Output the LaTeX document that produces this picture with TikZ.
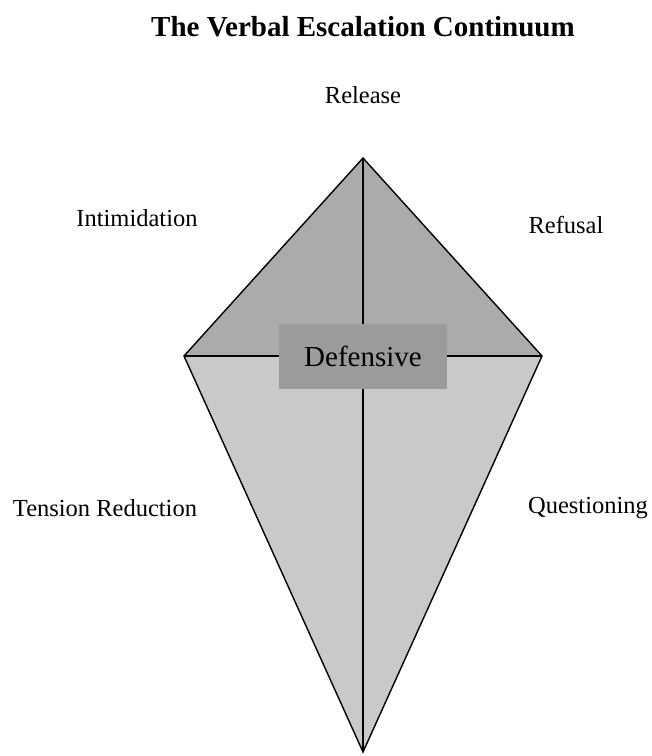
\documentclass[tikz,border=0pt]{standalone}
\usepackage{fontspec}
\setmainfont{Liberation Serif}
\definecolor{upgray}{HTML}{ABABAB}
\definecolor{lowgray}{HTML}{C9C9C9}
\definecolor{boxgray}{HTML}{9B9B9B}
\tikzset{lbl/.style={font=\fontsize{24.5}{28}\selectfont}}
\begin{document}
\begin{tikzpicture}[x=1pt,y=-1pt]
            \useasboundingbox (0,0) rectangle (652,756);
            \coordinate (top) at (363,158);
            \coordinate (lft) at (184,356);
            \coordinate (rgt) at (542,356);
            \coordinate (bot) at (363,752);
            \coordinate (mid) at (363,356);
            \fill[upgray] (lft) -- (top) -- (rgt) -- cycle;
            \fill[lowgray] (lft) -- (bot) -- (rgt) -- cycle;
            \draw[line width=1.4pt] (lft) -- (top) -- (rgt) -- (bot) -- cycle;
            \draw[line width=1.4pt] (top) -- (bot);
            \draw[line width=1.4pt] (lft) -- (rgt);
            \node[fill=boxgray, minimum width=168pt, minimum height=65pt,
                  font=\fontsize{29}{32}\selectfont] (def) at (mid) {Defensive};
            \node[font=\fontsize{29}{32}\selectfont\bfseries] (title) at (363,27) {The Verbal Escalation Continuum};
            \node[lbl] (rel) at (363,95)  {Release};
            \node[lbl] (intim) at (137,218) {Intimidation};
            \node[lbl] (ref) at (566,225) {Refusal};
            \node[lbl] (tens) at (105,508) {Tension Reduction};
            \node[lbl] (quest) at (588,508) {Questioning};
        \end{tikzpicture}
\end{document}
